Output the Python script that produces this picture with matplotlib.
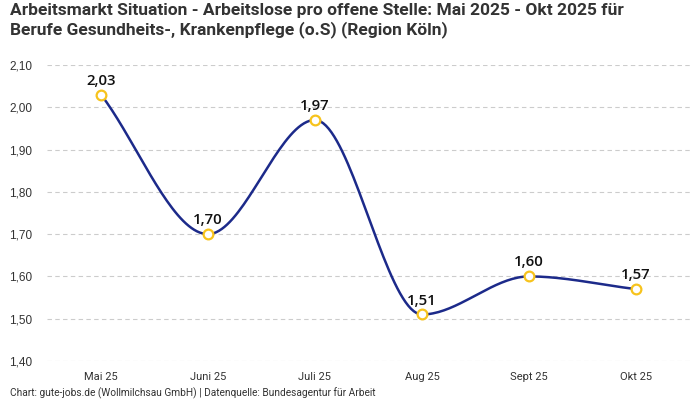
import numpy as np
import matplotlib
matplotlib.use('Agg')
from matplotlib import pyplot as plt

monate = ['Mai 25', 'Juni 25', 'Juli 25', 'Aug 25', 'Sept 25', 'Okt 25']
werte = [2.03, 1.70, 1.97, 1.51, 1.60, 1.57]
y_ticks = [1.40, 1.50, 1.60, 1.70, 1.80, 1.90, 2.00, 2.10]

titel = ('Arbeitsmarkt Situation - Arbeitslose pro offene Stelle: Mai 2025 - Okt 2025 für\n'
         'Berufe Gesundheits-, Krankenpflege (o.S) (Region Köln)')
quelle = 'Chart: gute-jobs.de (Wollmilchsau GmbH) | Datenquelle: Bundesagentur für Arbeit'


def monotone_kurve(x, y, n=40):
    # Fritsch-Carlson, damit die Kurve nicht über die Punkte hinausschießt
    x = np.asarray(x, float)
    y = np.asarray(y, float)
    h = np.diff(x)
    d = np.diff(y) / h
    m = np.zeros_like(y)
    m[0], m[-1] = d[0], d[-1]
    for i in range(1, len(y) - 1):
        if d[i - 1] * d[i] <= 0:
            m[i] = 0
        else:
            m[i] = 2 / (1 / d[i - 1] + 1 / d[i])
    xs, ys = [], []
    for i in range(len(h)):
        t = np.linspace(0, 1, n)
        h00 = 2 * t**3 - 3 * t**2 + 1
        h10 = t**3 - 2 * t**2 + t
        h01 = -2 * t**3 + 3 * t**2
        h11 = t**3 - t**2
        xs.append(x[i] + t * h[i])
        ys.append(h00 * y[i] + h10 * h[i] * m[i] + h01 * y[i + 1] + h11 * h[i] * m[i + 1])
    return np.concatenate(xs), np.concatenate(ys)


plt.rcParams['font.family'] = ['Liberation Sans', 'DejaVu Sans']

fig = plt.figure(figsize=(7, 4), dpi=100)
ax = fig.add_axes([47.5 / 700, 39 / 400, 642 / 700, 296 / 400])

x = np.arange(len(monate))
kx, ky = monotone_kurve(x, werte)
ax.plot(kx, ky, color='#1c2a8a', linewidth=1.8, zorder=2)
ax.plot(x, werte, linestyle='none', marker='o', markersize=7,
        markerfacecolor='white', markeredgecolor='#f7c31c', markeredgewidth=1.6, zorder=3)

for xi, w in zip(x, werte):
    ax.annotate(f'{w:.2f}'.replace('.', ','), (xi, w), xytext=(0, 5),
                textcoords='offset points', ha='center', va='bottom',
                fontsize=10.8, fontweight='semibold', color='#111111',
                family=['Open Sans', 'DejaVu Sans'])

ax.set_xlim(-0.5, len(monate) - 0.5)
ax.set_ylim(1.40, 2.10)
ax.set_xticks(x)
ax.set_xticklabels(monate, fontsize=8, color='#333333', family=['Roboto', 'DejaVu Sans'])
ax.set_yticks(y_ticks)
ax.set_yticklabels([f'{v:.2f}'.replace('.', ',') for v in y_ticks], fontsize=8.5, color='#333333')
ax.tick_params(length=0, pad=8)
ax.tick_params(axis='y', pad=11)
ax.grid(axis='y', linestyle=(0, (4, 3)), color='#cccccc', linewidth=0.8)
ax.set_axisbelow(True)
for s in ax.spines.values():
    s.set_visible(False)

fig.text(10 / 700, 1 - 3 / 400, titel, ha='left', va='top', fontsize=12.5, fontweight='bold',
         color='#333333', linespacing=1.25, family=['Roboto', 'DejaVu Sans'])
fig.text(10 / 700, 7 / 400, quelle, ha='left', va='center', fontsize=7.3, color='#333333',
         family=['Roboto', 'DejaVu Sans'])

fig.savefig('out.png', dpi=100)
